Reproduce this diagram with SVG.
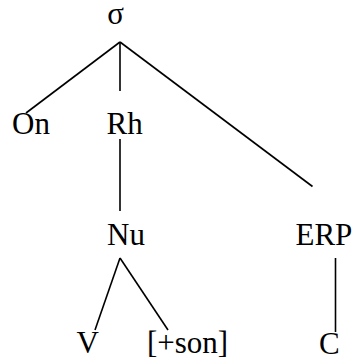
<svg xmlns="http://www.w3.org/2000/svg" width="358" height="358" viewBox="0 0 358 358">
<style>
.t{font-family:'Liberation Serif','Times New Roman','DejaVu Serif',serif;font-size:31px;fill:#000}
.e{stroke:#000;stroke-width:1.6;fill:none;stroke-linecap:butt}
</style>
<rect width="358" height="358" fill="#fff"/>
<g id="connectors">
<line class="e" x1="120" y1="42" x2="26" y2="113"/>
<line class="e" x1="120" y1="42" x2="120" y2="91"/>
<line class="e" x1="120" y1="42" x2="312.5" y2="186.5"/>
<line class="e" x1="120" y1="139" x2="120" y2="211"/>
<line class="e" x1="120" y1="258" x2="95" y2="330"/>
<line class="e" x1="120" y1="258" x2="168" y2="330"/>
<line class="e" x1="335.5" y1="258" x2="335.5" y2="332"/>
</g>
<g id="sigma"><text class="t" x="115.5" y="24" text-anchor="middle">σ</text></g>
<g id="On"><text class="t" x="12" y="134">On</text></g>
<g id="Rh"><text class="t" x="106.5" y="134">Rh</text></g>
<g id="Nu"><text class="t" x="107" y="245">Nu</text></g>
<g id="ERP"><text class="t" x="295.5" y="245">ERP</text></g>
<g id="V"><text class="t" x="76.5" y="353">V</text></g>
<g id="son"><text class="t" x="147" y="353">[+son]</text></g>
<g id="C"><text class="t" x="319" y="354">C</text></g>
</svg>
